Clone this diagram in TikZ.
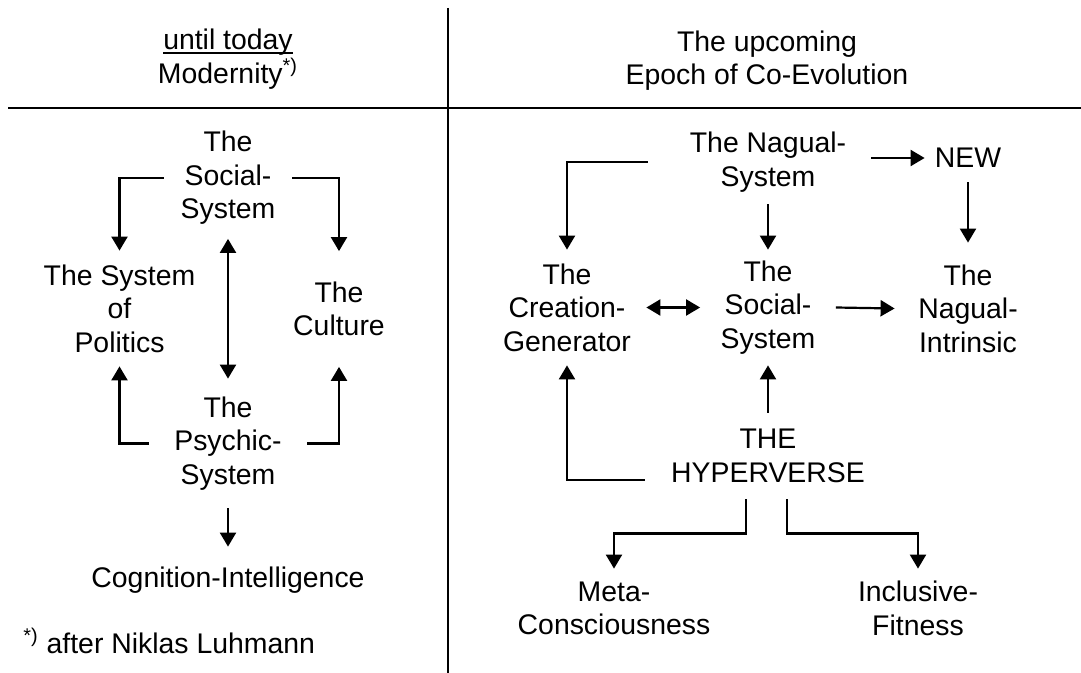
\documentclass[tikz,border=0pt]{standalone}
\usepackage{fontspec}
\setmainfont{Liberation Sans}
\usepackage{tikz}
\usetikzlibrary{arrows.meta}
\newcommand\ulin[1]{\setbox0\hbox{#1}\rlap{\rule[-2.3pt]{\wd0}{1pt}}\box0}
\tikzset{
  every label node/.style={align=center,inner sep=0pt},
  link/.style={draw,line width=1.1pt,-{Triangle[width=8pt,length=7pt]}},
  twoway/.style={link,{Triangle[width=8pt,length=7pt]}-{Triangle[width=8pt,length=7pt]}},
}
\begin{document}
\begin{tikzpicture}[
  x=0.5pt,y=-0.5pt,
  font=\fontsize{14.2}{16.75}\selectfont,
  every node/.style={every label node},
  rule/.style={draw,line width=0.9pt},
]
\useasboundingbox (0,0) rectangle (1081,673);
\draw[rule] (448,8) -- (448,673);
\draw[rule] (8,108) -- (1081,108);
% headings
\node (hl) at (228,59) {\ulin{until today}\\Modernity\textsuperscript{*)}};
\node (hr) at (767,60.5) {The upcoming\\Epoch of Co-Evolution};
% until today
\node[minimum width=64pt,minimum height=60.5pt] (lsoc) at (228,178) {The\\Social-\\System};
\node[minimum height=57.5pt] (lpol) at (119.5,308.5) {The System\\of\\Politics};
\node[minimum height=57.5pt] (lcul) at (339,309) {The\\Culture};
\node[minimum width=79pt,minimum height=64.5pt] (lpsy) at (228,443.5) {The\\Psychic-\\System};
\node[minimum height=33.5pt] (lcog) at (228,580.5) {Cognition-Intelligence};
\node[anchor=base west] (lfoot) at (23,653) {\textsuperscript{*)} after Niklas Luhmann};
\draw[link] (lsoc.west) -| (lpol.north);
\draw[link] (lsoc.east) -| (lcul.north);
\draw[twoway] (lsoc.south) -- (lpsy.north);
\draw[link] (lpsy.west) -| (lpol.south);
\draw[link] (lpsy.east) -| (lcul.south);
\draw[link] (lpsy.south) -- (lcog.north);
% co-evolution
\node[minimum width=103pt,minimum height=42pt] (rnag) at (768,162) {The Nagual-\\System};
\node[minimum width=43pt,minimum height=24pt] (rnew) at (968,158) {NEW};
\node[minimum width=79pt,minimum height=57.5pt] (rcre) at (567,307.5) {The\\Creation-\\Generator};
\node[minimum width=67.5pt,minimum height=57.5pt] (rsoc) at (768,307.5) {The\\Social-\\System};
\node[minimum width=73pt,minimum height=65.5pt] (rnin) at (968,308.5) {The\\Nagual-\\Intrinsic};
\node[minimum width=123pt,minimum height=43pt] (rhyp) at (768,456) {THE\\HYPERVERSE};
\node[minimum height=39.5pt] (rmet) at (614,608.5) {Meta-\\Consciousness};
\node[minimum height=39.5pt] (rinc) at (918,608.5) {Inclusive-\\Fitness};
\draw[link] ([xshift=-8.5pt]rnag.west) -| (rcre.north);
\draw[link] (rnag.south) -- (rsoc.north);
\draw[link] (rnag.east |- rnew.west) -- (rnew.west);
\draw[link] (rnew.south) -- (rnin.north);
\draw[twoway] (rcre.east) -- (rsoc.west);
\draw[link] (rsoc.east) -- (rnin.west);
\draw[link] (rhyp.north) -- (rsoc.south);
\draw[link] ([yshift=-12pt]rhyp.west) -| (rcre.south);
\draw[link] ([xshift=-11pt]rhyp.south) -- ++(0,34) -| (rmet.north);
\draw[link] ([xshift=9.5pt]rhyp.south) -- ++(0,34) -| (rinc.north);
\end{tikzpicture}
\end{document}
